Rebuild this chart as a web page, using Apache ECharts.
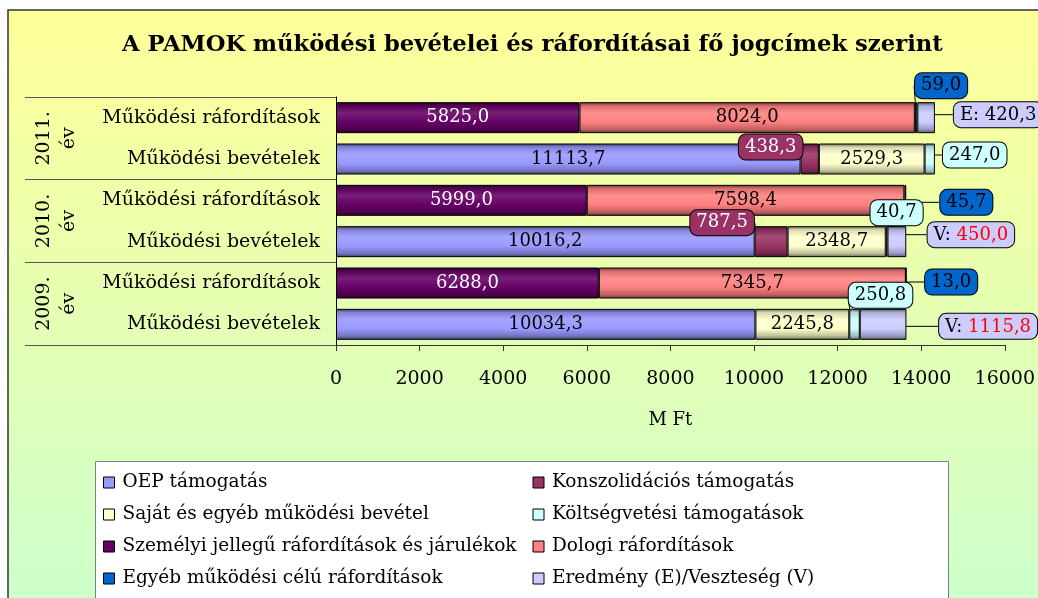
<!DOCTYPE html>
<html>
<head>
<meta charset="utf-8">
<title>PAMOK működési bevételei és ráfordításai</title>
<script src="https://cdn.jsdelivr.net/npm/echarts@6/dist/echarts.min.js"></script>
<style>
  html, body { margin: 0; padding: 0; background: #fff; }
  #chart { width: 1038px; height: 598px; }
</style>
</head>
<body>
<div id="chart"></div>
<script>
// sorok fentrol lefele: 2011 raf., 2011 bev., 2010 raf., 2010 bev., 2009 raf., 2009 bev.
var years = ['2011.', '2010.', '2009.'];
var rowNames = ['Működési ráfordítások', 'Működési bevételek'];
var xMin = 0, xMax = 16000, xStep = 2000;

var seriesNames = [
  'OEP támogatás',
  'Konszolidációs támogatás',
  'Saját és egyéb működési bevétel',
  'Költségvetési támogatások',
  'Személyi jellegű ráfordítások és járulékok',
  'Dologi ráfordítások',
  'Egyéb működési célú ráfordítások',
  'Eredmény (E)/Veszteség (V)'
];

var oep      = [null, 11113.7, null, 10016.2, null, 10034.3];
var konsz    = [null, 438.3,   null, 787.5,   null, null];
var sajat    = [null, 2529.3,  null, 2348.7,  null, 2245.8];
var koltseg  = [null, 247.0,   null, 40.7,    null, 250.8];
var szemelyi = [5825.0, null, 5999.0, null, 6288.0, null];
var dologi   = [8024.0, null, 7598.4, null, 7345.7, null];
var egyeb    = [59.0,   null, 45.7,   null, 13.0,   null];
var eredmeny = [420.3,  null, null, 450.0, null, 1115.8];
var eredmenyJel = ['E', '', '', 'V', '', 'V'];

var FONT = 'DejaVu Serif';
var colors = ['#9999FF', '#993366', '#FFFFCC', '#CCFFFF', '#660066', '#FF8080', '#0066CC', '#CCCCFF'];
var textColors = ['#000', '#fff', '#000', '#000', '#fff', '#000', '#000', '#000'];
var isCallout = [false, true, false, true, false, false, true, true];

// buborekos cimkek eltolasa: sorozat -> adat index -> [dx, dy]
var calloutShift = {
  1: {1: [-39, -12], 3: [-49, -19]},
  3: {1: [45, -4], 3: [10, -29], 5: [26, -29]},
  6: {0: [25, -32], 2: [61, 2], 4: [45, -1]},
  7: {0: [72, -3], 3: [74, -7], 5: [105, 2]}
};

function hu(v) { return v.toFixed(1).replace('.', ','); }

function shade(hex, p) {
  var n = parseInt(hex.slice(1), 16);
  var c = [(n >> 16) & 255, (n >> 8) & 255, n & 255].map(function (x) {
    var t = p < 0 ? 0 : 255;
    return Math.round(x + (t - x) * Math.abs(p));
  });
  return 'rgb(' + c.join(',') + ')';
}

function barFill(hex) {
  return new echarts.graphic.LinearGradient(0, 0, 0, 1, [
    {offset: 0, color: shade(hex, -0.6)},
    {offset: 0.12, color: shade(hex, -0.15)},
    {offset: 0.35, color: shade(hex, 0.12)},
    {offset: 0.65, color: hex},
    {offset: 0.88, color: shade(hex, -0.25)},
    {offset: 1, color: shade(hex, -0.6)}
  ]);
}

var categories = [];
years.forEach(function (y) {
  rowNames.forEach(function (r) { categories.push(y + '|' + r); });
});

var seriesData = [oep, konsz, sajat, koltseg, szemelyi, dologi, egyeb, eredmeny];

var series = seriesData.map(function (vals, si) {
  var label = {
    show: true,
    position: 'inside',
    fontFamily: FONT,
    fontSize: 18,
    color: textColors[si],
    formatter: function (p) { return p.value == null ? '' : hu(p.value); }
  };
  if (isCallout[si]) {
    label.backgroundColor = colors[si];
    label.borderColor = '#000';
    label.borderWidth = 1;
    label.borderRadius = 7;
    label.padding = [4, 6, 3, 6];
  }
  if (si === 7) {
    label.formatter = function (p) {
      if (p.value == null) return '';
      var j = eredmenyJel[p.dataIndex];
      return '{k|' + j + ': }' + (j === 'V' ? '{r|' : '{k|') + hu(p.value) + '}';
    };
    label.rich = {
      k: {fontFamily: FONT, fontSize: 18, color: '#000'},
      r: {fontFamily: FONT, fontSize: 18, color: '#ff0000'}
    };
  }
  return {
    name: seriesNames[si],
    type: 'bar',
    stack: 'ossz',
    barWidth: '75%',
    data: vals,
    itemStyle: {color: barFill(colors[si]), borderColor: '#000', borderWidth: 1},
    label: label,
    labelLine: {show: isCallout[si], lineStyle: {color: '#000', width: 1}},
    labelLayout: function (p) {
      var s = calloutShift[si] && calloutShift[si][p.dataIndex];
      return s ? {dx: s[0], dy: s[1]} : {};
    },
    emphasis: {disabled: true}
  };
});

var chart = echarts.init(document.getElementById('chart'));
chart.setOption({
  backgroundColor: '#fff',
  animation: false,
  textStyle: {fontFamily: FONT},
  title: {
    text: 'A PAMOK működési bevételei és ráfordításai fő jogcímek szerint',
    left: 117,
    top: 29,
    textStyle: {fontFamily: FONT, fontSize: 22.7, fontWeight: 'bold', color: '#000'}
  },
  graphic: [
    {
      type: 'rect', z: -10, silent: true,
      shape: {x: 8, y: 10, width: 1040, height: 600},
      style: {
        fill: new echarts.graphic.LinearGradient(0, 0, 0, 1, [
          {offset: 0, color: '#FFFF99'},
          {offset: 1, color: '#CCFFCC'}
        ]),
        stroke: '#333', lineWidth: 1.5
      }
    },
    {
      type: 'rect', z: 3, silent: true,
      shape: {x: 95.5, y: 461.5, width: 853, height: 200},
      style: {fill: '#fff', stroke: '#808080', lineWidth: 1}
    }
  ],
  legend: {
    left: 98, top: 467, width: 880,
    orient: 'horizontal',
    itemWidth: 11, itemHeight: 11, itemGap: 11,
    icon: 'rect',
    selectedMode: false,
    textStyle: {fontFamily: FONT, fontSize: 18.5, color: '#000', width: 399, lineHeight: 21, padding: [0, 0, 0, 3]},
    data: seriesNames.map(function (n, i) {
      return {name: n, itemStyle: {color: colors[i], borderColor: '#000', borderWidth: 1}};
    })
  },
  grid: {left: 336, right: 33, top: 97, bottom: 253},
  xAxis: {
    type: 'value',
    min: xMin, max: xMax, interval: xStep,
    splitLine: {show: false},
    axisLine: {show: true, lineStyle: {color: '#333'}},
    axisTick: {show: true, length: 6, lineStyle: {color: '#333'}},
    axisLabel: {fontFamily: FONT, fontSize: 19, color: '#000', margin: 25,
      formatter: function (v) { return String(v); }},
    name: 'M Ft',
    nameLocation: 'middle',
    nameGap: 66,
    nameTextStyle: {fontFamily: FONT, fontSize: 18, color: '#000'}
  },
  yAxis: [
    {
      type: 'category',
      inverse: true,
      data: categories,
      axisLine: {show: true, lineStyle: {color: '#000'}},
      axisTick: {show: false},
      axisLabel: {
        fontFamily: FONT, fontSize: 19, color: '#000', margin: 16,
        formatter: function (v) { return v.split('|')[1]; }
      }
    },
    {
      type: 'category',
      position: 'left',
      inverse: true,
      data: years,
      axisLine: {show: false},
      axisTick: {show: true, length: 311, lineStyle: {color: '#555'}},
      axisLabel: {
        fontFamily: FONT, fontSize: 19, color: '#000', margin: 254, rotate: 90,
        lineHeight: 25, align: 'center',
        formatter: function (v) { return v + '\név'; }
      }
    }
  ],
  series: series
});
</script>
</body>
</html>
